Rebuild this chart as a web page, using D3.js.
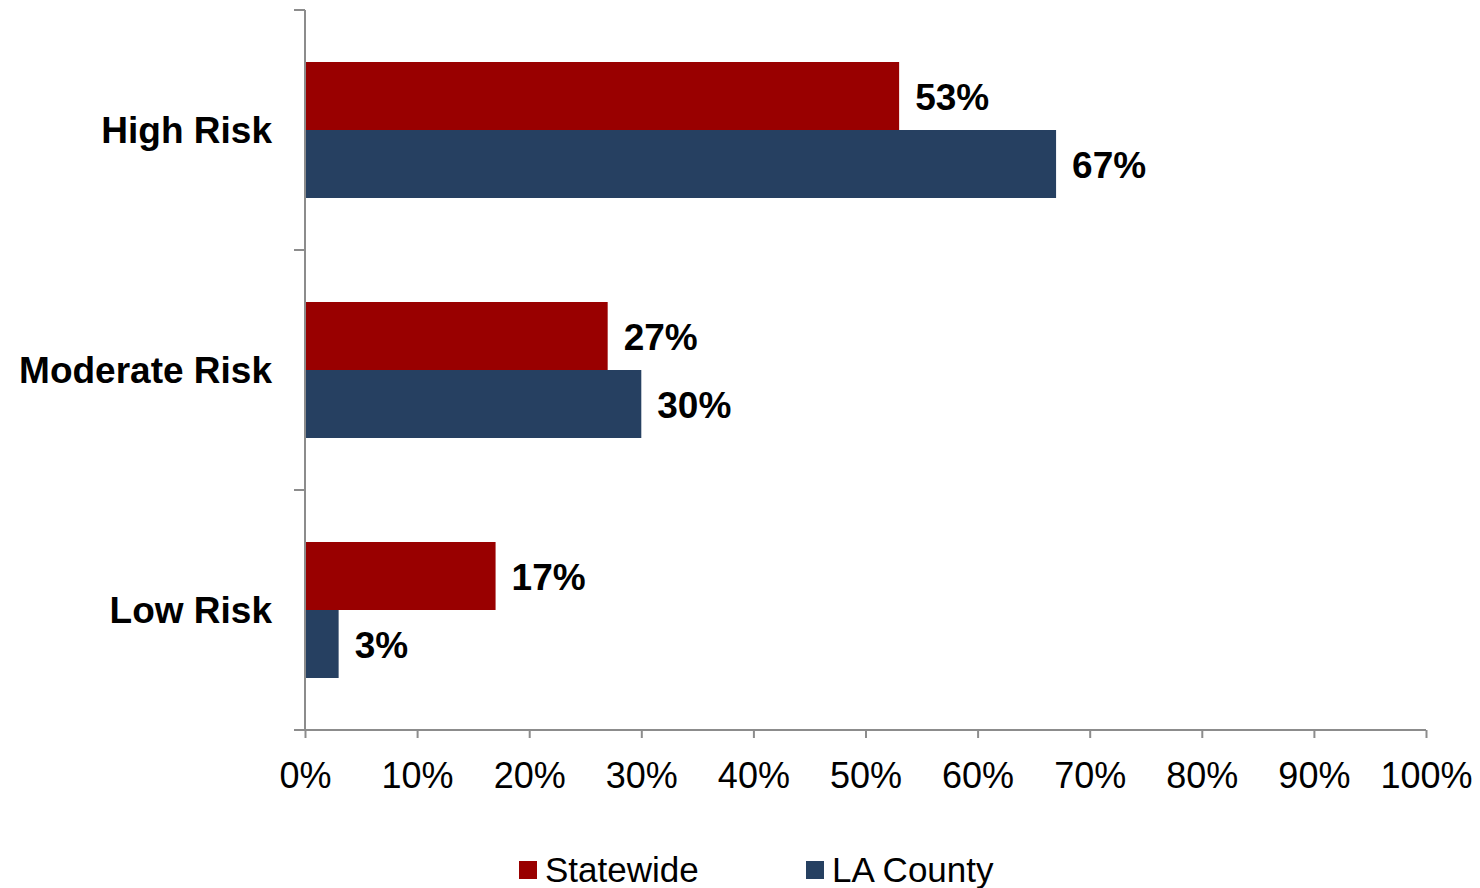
<!DOCTYPE html>
<html>
<head>
<meta charset="utf-8">
<script src="https://cdn.jsdelivr.net/npm/d3@7"></script>
<style>
  body { margin: 0; background: #fff; }
  svg { font-family: "Liberation Sans", Arial, sans-serif; }
</style>
</head>
<body>
<svg width="1480" height="888"></svg>
<script>
// categories top to bottom
const categories = ['High Risk', 'Moderate Risk', 'Low Risk'];
const seriesNames = ['Statewide', 'LA County'];
const statewide = [53, 27, 17];
const laCounty = [67, 30, 3];
const xTicks = [0, 10, 20, 30, 40, 50, 60, 70, 80, 90, 100];

const colors = { 'Statewide': '#990000', 'LA County': '#264061' };
const axisColor = '#8c8c8c';

const svg = d3.select('svg');
const margin = { left: 305, right: 54, top: 10, bottom: 158 };
const width = +svg.attr('width');
const height = +svg.attr('height');
const innerW = width - margin.left - margin.right;
const innerH = height - margin.top - margin.bottom;

const data = categories.map((c, i) => ({
    category: c,
    values: [
        { series: 'Statewide', value: statewide[i] },
        { series: 'LA County', value: laCounty[i] }
    ]
}));

const x = d3.scaleLinear().domain([0, 100]).range([0, innerW]);

const pad = 1 - 136 / 240;
const y = d3.scaleBand()
    .domain(categories)
    .range([0, innerH])
    .paddingInner(pad)
    .paddingOuter(pad / 2);

const ySub = d3.scaleBand()
    .domain(seriesNames)
    .range([0, y.bandwidth()]);

const g = svg.append('g')
    .attr('transform', `translate(${margin.left},${margin.top})`);

// bars
const groups = g.selectAll('.cat')
    .data(data)
    .enter()
    .append('g')
    .attr('class', 'cat')
    .attr('transform', d => `translate(0,${y(d.category)})`);

groups.selectAll('rect')
    .data(d => d.values)
    .enter()
    .append('rect')
    .attr('x', 0)
    .attr('y', d => ySub(d.series))
    .attr('width', d => x(d.value))
    .attr('height', ySub.bandwidth())
    .attr('fill', d => colors[d.series]);

// value labels
groups.selectAll('.val')
    .data(d => d.values)
    .enter()
    .append('text')
    .attr('class', 'val')
    .attr('x', d => x(d.value) + 16)
    .attr('y', d => ySub(d.series) + ySub.bandwidth() / 2 + 1)
    .attr('dy', '0.35em')
    .style('font-size', '37px')
    .style('font-weight', 'bold')
    .style('fill', '#000')
    .text(d => d.value + '%');

// y axis (category boundaries as ticks)
const yAxisG = g.append('g');
yAxisG.append('line')
    .attr('x1', 0).attr('x2', 0)
    .attr('y1', 0).attr('y2', innerH)
    .attr('stroke', axisColor).attr('stroke-width', 2);
const bounds = d3.range(categories.length + 1).map(i => i * y.step());
yAxisG.selectAll('.ytick')
    .data(bounds)
    .enter()
    .append('line')
    .attr('x1', -11).attr('x2', 0)
    .attr('y1', d => d).attr('y2', d => d)
    .attr('stroke', axisColor).attr('stroke-width', 2);

yAxisG.selectAll('.ylab')
    .data(categories)
    .enter()
    .append('text')
    .attr('x', -33)
    .attr('y', d => y(d) + y.bandwidth() / 2)
    .attr('dy', '0.35em')
    .attr('text-anchor', 'end')
    .style('font-size', '37px')
    .style('font-weight', 'bold')
    .style('fill', '#000')
    .text(d => d);

// x axis
const xAxisG = g.append('g')
    .attr('transform', `translate(0,${innerH})`)
    .call(d3.axisBottom(x)
        .tickValues(xTicks)
        .tickSize(8)
        .tickPadding(24)
        .tickFormat(d => d + '%'));
xAxisG.select('.domain').remove();
xAxisG.append('line')
    .attr('x1', -11).attr('x2', innerW)
    .attr('y1', 0).attr('y2', 0)
    .attr('stroke', axisColor).attr('stroke-width', 2);
xAxisG.selectAll('.tick line')
    .attr('stroke', axisColor).attr('stroke-width', 2);
xAxisG.selectAll('.tick text')
    .style('font-size', '36px')
    .style('font-family', '"Liberation Sans", Arial, sans-serif')
    .style('fill', '#000');

// legend
const legendItems = [
    { name: 'Statewide', x: 519 },
    { name: 'LA County', x: 806 }
];
const legend = svg.append('g');
const li = legend.selectAll('.leg')
    .data(legendItems)
    .enter()
    .append('g')
    .attr('transform', d => `translate(${d.x},861)`);
li.append('rect')
    .attr('width', 18).attr('height', 18)
    .attr('fill', d => colors[d.name]);
li.append('text')
    .attr('x', 26)
    .attr('y', 9)
    .attr('dy', '0.35em')
    .style('font-size', '35px')
    .style('fill', '#000')
    .text(d => d.name);
</script>
</body>
</html>
